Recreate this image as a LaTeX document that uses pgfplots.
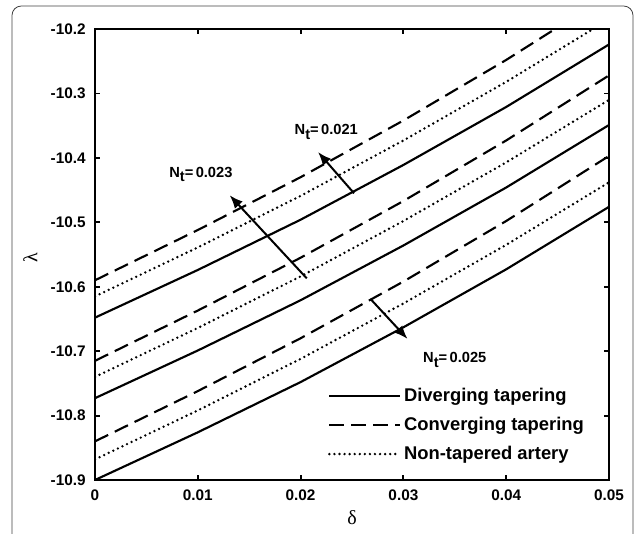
\documentclass[border=0pt]{standalone}
\usepackage{fontspec}
\setmainfont{Liberation Sans}
\newfontfamily\greekserif{Liberation Serif}
\usepackage{pgfplots}
\pgfplotsset{compat=1.18}
\usetikzlibrary{arrows.meta}

% lambda vs delta, three N_t groups
\pgfplotstableread{
d     divA     conA     nonA     divB     conB     nonB     divC     conC     nonC
0.00 -10.648 -10.590 -10.615 -10.773 -10.715 -10.740 -10.900 -10.840 -10.868
0.01 -10.574 -10.512 -10.539 -10.699 -10.637 -10.664 -10.826 -10.762 -10.792
0.02 -10.496 -10.430 -10.459 -10.621 -10.555 -10.584 -10.748 -10.680 -10.712
0.03 -10.411 -10.342 -10.373 -10.536 -10.467 -10.498 -10.663 -10.592 -10.626
0.04 -10.321 -10.248 -10.282 -10.446 -10.373 -10.407 -10.573 -10.498 -10.535
0.05 -10.224 -10.147 -10.185 -10.349 -10.272 -10.310 -10.476 -10.397 -10.438
}\lamtab

\begin{document}
\begin{tikzpicture}
\useasboundingbox (-71.25pt,-39.75pt) rectangle (405.75pt,360pt);
\begin{axis}[
  scale only axis,
  width=385.5pt, height=338.25pt,
  xmin=0, xmax=0.05, ymin=-10.9, ymax=-10.2,
  xtick={0,0.01,0.02,0.03,0.04,0.05},
  xticklabels={0,0.01,0.02,0.03,0.04,0.05},
  ytick={-10.9,-10.8,-10.7,-10.6,-10.5,-10.4,-10.3,-10.2},
  yticklabels={-10.9,-10.8,-10.7,-10.6,-10.5,-10.4,-10.3,-10.2},
  scaled x ticks=false,
  tick align=inside,
  major tick length=3.75pt,
  axis line style={line width=2pt},
  every tick/.style={line width=1.4pt, black},
  tick label style={font=\fontsize{11.5}{13}\selectfont\bfseries},
  yticklabel style={xshift=-3.5pt},
  xticklabel style={yshift=-4pt},
  xlabel={\greekserif δ},
  ylabel={\greekserif λ},
  label style={font=\fontsize{15}{17}\selectfont},
  xlabel style={at={(axis description cs:0.5,-0.084)}, anchor=center},
  ylabel style={at={(axis description cs:-0.126,0.494)}, anchor=center},
  legend style={draw=none, fill=none, at={(0.957,0.034)}, anchor=south east,
    font=\fontsize{13.8}{16}\selectfont\bfseries, inner sep=0pt, row sep=6.3pt},
  legend cell align=left,
  legend image code/.code={\draw[#1] (0pt,0pt) -- (53pt,0pt);},
  solidl/.style={black, line width=1.6pt},
  dashl/.style={black, line width=1.6pt, dash pattern=on 11pt off 5.5pt},
  dotl/.style={black, line width=2pt, line cap=round, dash pattern=on 0pt off 3.8pt},
]
\addplot[solidl] table[x=d,y=divA] {\lamtab};
\addlegendentry{Diverging tapering}
\addplot[dashl] table[x=d,y=conA] {\lamtab};
\addlegendentry{Converging tapering}
\addplot[dotl] table[x=d,y=nonA] {\lamtab};
\addlegendentry{Non-tapered artery}
\addplot[solidl, forget plot] table[x=d,y=divB] {\lamtab};
\addplot[dashl, forget plot] table[x=d,y=conB] {\lamtab};
\addplot[dotl, forget plot] table[x=d,y=nonB] {\lamtab};
\addplot[solidl, forget plot] table[x=d,y=divC] {\lamtab};
\addplot[dashl, forget plot] table[x=d,y=conC] {\lamtab};
\addplot[dotl, forget plot] table[x=d,y=nonC] {\lamtab};

\draw[line width=1.5pt, -{Latex[length=10pt,width=8pt]}] (axis cs:0.0252,-10.455) -- (axis cs:0.0217,-10.391);
\draw[line width=1.5pt, -{Latex[length=10pt,width=8pt]}] (axis cs:0.0206,-10.587) -- (axis cs:0.0131,-10.458);
\draw[line width=1.5pt, -{Latex[length=10pt,width=8pt]}] (axis cs:0.0268,-10.619) -- (axis cs:0.0304,-10.681);

\node[font=\fontsize{11}{13}\selectfont\bfseries] at (axis cs:0.0225,-10.36) {N\raisebox{-0.6ex}{t}{=}\,0.021};
\node[font=\fontsize{11}{13}\selectfont\bfseries] at (axis cs:0.0103,-10.426) {N\raisebox{-0.6ex}{t}{=}\,0.023};
\node[font=\fontsize{11}{13}\selectfont\bfseries] at (axis cs:0.0350,-10.714) {N\raisebox{-0.6ex}{t}{=}\,0.025};
\end{axis}
\draw[black!75, line width=0.6pt, rounded corners=7pt] (-62.25pt,-70pt) -- (-62.25pt,355.5pt) -- (403.5pt,355.5pt) -- (403.5pt,-70pt);
\end{tikzpicture}
\end{document}
